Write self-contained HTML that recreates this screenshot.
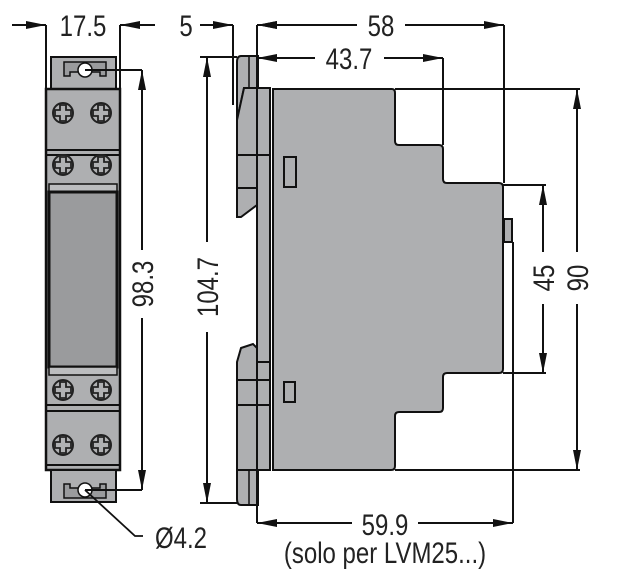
<!DOCTYPE html>
<html><head><meta charset="utf-8"><style>
html,body{margin:0;padding:0;background:#fff;}
svg{display:block;}
text{font-family:"Liberation Sans",sans-serif;font-size:30px;fill:#222;}
</style></head><body>
<svg width="622" height="588" viewBox="0 0 622 588" xmlns="http://www.w3.org/2000/svg">
<defs>
<marker id="a" viewBox="0 0 20 8" refX="20" refY="4" markerWidth="20" markerHeight="8" markerUnits="userSpaceOnUse" orient="auto-start-reverse"><path d="M0,0 L20,4 L0,8 Z" fill="#111"/></marker>
<g id="scr"><circle r="10" fill="#b0b1b3" stroke="#222" stroke-width="2"/><path d="M-3,-8 h6 v5 h5 v6 h-5 v5 h-6 v-5 h-5 v-6 h5 Z" fill="none" stroke="#222" stroke-width="1.8"/></g>
</defs>
<g stroke="#111" stroke-width="2" fill="none">
<rect x="51" y="57" width="65" height="32" fill="#aeafb1"/>
<path d="M64,62 h42 v14 h-6 v-4 h-30 v4 h-6 Z" fill="#9a9b9d" stroke-width="1.5"/>
<circle cx="85" cy="70" r="7" fill="#fff" stroke-width="1.5"/>
<rect x="46" y="89" width="74" height="381" fill="#aeafb1" stroke-width="2.5"/>
<line x1="46" y1="150" x2="120" y2="150"/><line x1="46" y1="155" x2="120" y2="155"/>
<rect x="49" y="184" width="68" height="8" fill="#bcbdbf" stroke-width="1.5"/>
<rect x="49" y="192" width="68" height="175" fill="#9a9b9d" stroke-width="3"/>
<rect x="49" y="367" width="68" height="8" fill="#bcbdbf" stroke-width="1.5"/>
<line x1="46" y1="405" x2="120" y2="405"/><line x1="46" y1="411" x2="120" y2="411"/>
<line x1="46" y1="465" x2="120" y2="465"/>
<rect x="51" y="470" width="65" height="32" fill="#aeafb1"/>
<path d="M64,498 h42 v-14 h-6 v4 h-30 v-4 h-6 Z" fill="#9a9b9d" stroke-width="1.5"/>
<circle cx="85" cy="490" r="7" fill="#fff" stroke-width="1.5"/>
</g>
<use href="#scr" x="63" y="113"/><use href="#scr" x="101" y="113"/>
<use href="#scr" x="63" y="165"/><use href="#scr" x="101" y="165"/>
<use href="#scr" x="63" y="390"/><use href="#scr" x="101" y="390"/>
<use href="#scr" x="63" y="445"/><use href="#scr" x="101" y="445"/>

<g stroke="#111" stroke-width="2" fill="#aeafb1">
<path d="M241,56 H258 V88 H244 L237,120 V62 Q237,56 241,56 Z"/>
<path d="M244,88 H270 V188 H257 V205 L241,217 H237 V120 Z"/>
<rect x="257" y="88" width="13" height="382"/>
<path d="M241,348 L253,344 L257,348 V362 H270 V470 H237 V362 Z"/>
<path d="M237,470 H258 V505 H241 Q237,505 237,499 Z"/>
<line x1="249" y1="56" x2="249" y2="88" stroke-width="1.5"/><line x1="249" y1="470" x2="249" y2="505" stroke-width="1.5"/>
<line x1="237" y1="155" x2="270" y2="155"/><line x1="237" y1="188" x2="257" y2="188"/>
<line x1="237" y1="380" x2="270" y2="380"/><line x1="237" y1="405" x2="270" y2="405"/>
<path d="M273,89 H392 Q395,89 395,93 V141 Q395,145 399,145 H439 Q443,145 443,149 V179 Q443,183 447,183 H499 Q503,183 503,187 V369 Q503,373 499,373 H447 Q443,373 443,377 V408 Q443,412 439,412 H399 Q395,412 395,416 V466 Q395,470 391,470 H273 Z"/>
<rect x="504" y="219" width="8" height="23"/>
<rect x="284" y="157" width="12" height="30" fill="#aeafb1"/>
<rect x="284" y="382" width="11" height="20" fill="#aeafb1"/>
</g>

<g stroke="#111" stroke-width="2" fill="none">
<line x1="46" y1="25" x2="46" y2="89"/><line x1="120" y1="25" x2="120" y2="89"/>
<line x1="12" y1="25" x2="46" y2="25" marker-end="url(#a)"/>
<line x1="155" y1="25" x2="120" y2="25" marker-end="url(#a)"/>
<line x1="233" y1="25" x2="233" y2="105"/><line x1="257" y1="25" x2="257" y2="523"/>
<line x1="200" y1="25" x2="233" y2="25" marker-end="url(#a)"/>
<line x1="290" y1="25" x2="257" y2="25" marker-end="url(#a)"/>
<line x1="357" y1="25" x2="257" y2="25" marker-end="url(#a)"/>
<line x1="405" y1="25" x2="504" y2="25" marker-end="url(#a)"/>
<line x1="504" y1="25" x2="504" y2="183"/>
<line x1="315" y1="58" x2="257" y2="58" marker-end="url(#a)"/>
<line x1="384" y1="58" x2="443" y2="58" marker-end="url(#a)"/>
<line x1="443" y1="58" x2="443" y2="145"/>
<line x1="85" y1="70" x2="142" y2="70"/><line x1="85" y1="490" x2="142" y2="490"/>
<line x1="142" y1="250" x2="142" y2="70" marker-end="url(#a)"/>
<line x1="142" y1="318" x2="142" y2="490" marker-end="url(#a)"/>
<line x1="200" y1="57" x2="237" y2="57"/><line x1="200" y1="503" x2="237" y2="503"/>
<line x1="207" y1="242" x2="207" y2="57" marker-end="url(#a)"/>
<line x1="207" y1="332" x2="207" y2="503" marker-end="url(#a)"/>
<line x1="395" y1="89" x2="580" y2="89"/><line x1="395" y1="470" x2="580" y2="470"/>
<line x1="577" y1="252" x2="577" y2="89" marker-end="url(#a)"/>
<line x1="577" y1="304" x2="577" y2="470" marker-end="url(#a)"/>
<line x1="503" y1="185" x2="546" y2="185"/><line x1="503" y1="373" x2="546" y2="373"/>
<line x1="543" y1="252" x2="543" y2="185" marker-end="url(#a)"/>
<line x1="543" y1="304" x2="543" y2="373" marker-end="url(#a)"/>
<line x1="513" y1="242" x2="513" y2="523"/>
<line x1="352" y1="523" x2="257" y2="523" marker-end="url(#a)"/>
<line x1="418" y1="523" x2="513" y2="523" marker-end="url(#a)"/>
<path d="M143,536 H135 L85,490" stroke-width="1.8"/>
</g>
<g>
<text x="83" y="36" text-anchor="middle" transform="translate(83 0) scale(0.8 1) translate(-83 0)">17.5</text>
<text x="186" y="36" text-anchor="middle" transform="translate(186 0) scale(0.8 1) translate(-186 0)">5</text>
<text x="381" y="36" text-anchor="middle" transform="translate(381 0) scale(0.8 1) translate(-381 0)">58</text>
<text x="349" y="69" text-anchor="middle" transform="translate(349 0) scale(0.8 1) translate(-349 0)">43.7</text>
<text x="0" y="0" text-anchor="middle" transform="translate(153 284) rotate(-90) scale(0.8 1)">98.3</text>
<text x="0" y="0" text-anchor="middle" transform="translate(218 287) rotate(-90) scale(0.8 1)">104.7</text>
<text x="0" y="0" text-anchor="middle" transform="translate(554 278) rotate(-90) scale(0.8 1)">45</text>
<text x="0" y="0" text-anchor="middle" transform="translate(588 278) rotate(-90) scale(0.8 1)">90</text>
<text x="385" y="535" text-anchor="middle" transform="translate(385 0) scale(0.8 1) translate(-385 0)">59.9</text>
<text x="385" y="563" text-anchor="middle" transform="translate(385 0) scale(0.8 1) translate(-385 0)">(solo per LVM25...)</text>
<text x="181" y="548" text-anchor="middle" transform="translate(181 0) scale(0.8 1) translate(-181 0)">Ø4.2</text>
</g>
</svg>
</body></html>
